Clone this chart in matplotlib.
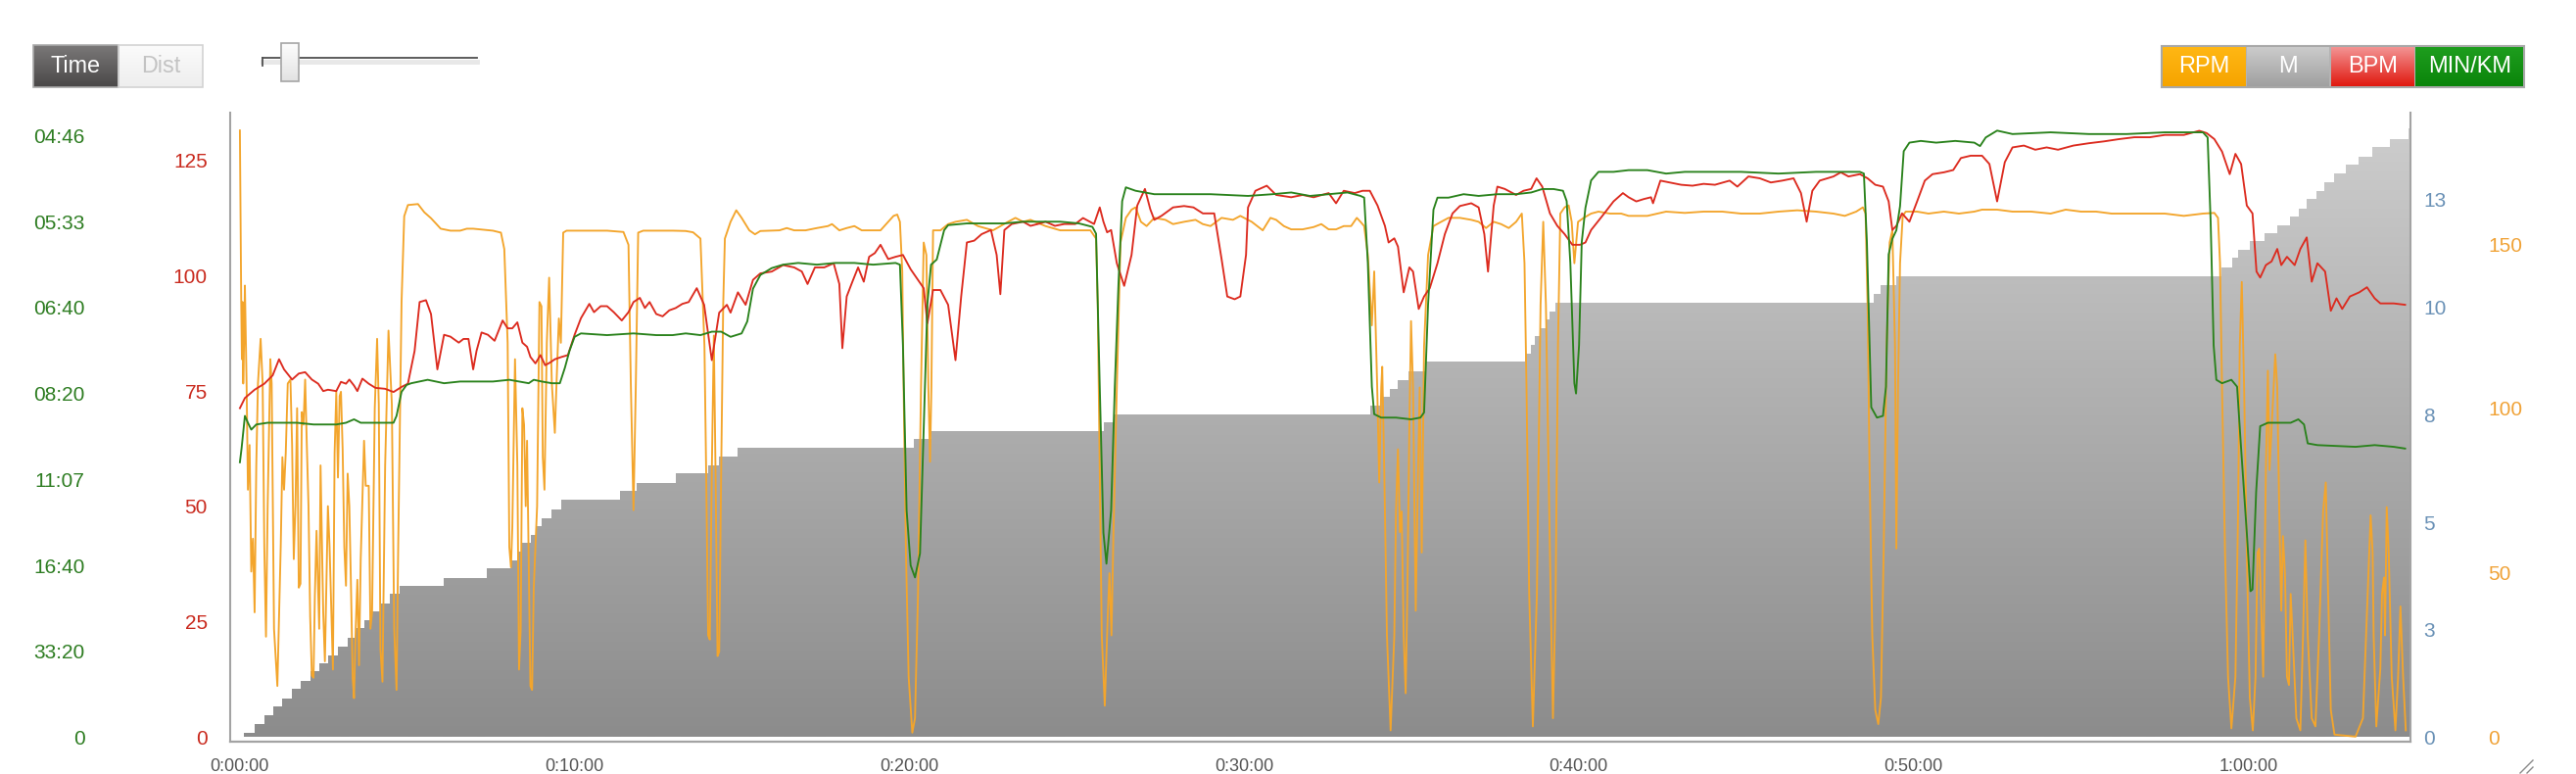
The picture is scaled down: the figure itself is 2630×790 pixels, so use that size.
import numpy as np
import matplotlib
matplotlib.use("Agg")
import matplotlib.pyplot as plt
from matplotlib.ticker import FixedLocator, FuncFormatter
from matplotlib.patches import PathPatch, Rectangle
from matplotlib.lines import Line2D
from matplotlib.colors import to_rgb, LinearSegmentedColormap

plt.rcParams['font.family'] = ['Liberation Sans', 'DejaVu Sans']

# ---------------- data (time in minutes) ----------------
time_ticks_min = [0, 10, 20, 30, 40, 50, 60]
bpm_ticks = [0, 25, 50, 75, 100, 125]
speed_ticks = [0, 0.5, 1.0, 1.5, 2.0, 2.5, 3.0, 3.5]   # m/s, labelled as min/km pace
dist_ticks = [0, 2.5, 5, 7.5, 10, 12.5]               # km
rpm_ticks = [0, 50, 100, 150]
legend_labels = ["RPM", "M", "BPM", "MIN/KM"]
mode_labels = ["Time", "Dist"]

# distance (km), step series: (time, value from that time on)
dist_pts = [
    (0.0, 0.0), (0.13, 0.10), (0.44, 0.31), (0.73, 0.51), (1.00, 0.72), (1.27, 0.91),
    (1.56, 1.12), (1.82, 1.31), (2.10, 1.53), (2.37, 1.72), (2.63, 1.91), (2.93, 2.10),
    (3.22, 2.32), (3.46, 2.53), (3.71, 2.72), (3.90, 2.92), (4.19, 3.12), (4.49, 3.33),
    (4.78, 3.52), (6.10, 3.71), (7.37, 3.92), (8.10, 4.12), (8.27, 4.32), (8.44, 4.52),
    (8.68, 4.71), (8.88, 4.90), (9.02, 5.09), (9.32, 5.30), (9.61, 5.52), (11.36, 5.73),
    (11.86, 5.92), (13.03, 6.14), (13.99, 6.33), (14.32, 6.52), (14.88, 6.73), (20.15, 6.94),
    (20.65, 7.13), (25.80, 7.32), (26.14, 7.51), (33.76, 7.71), (34.10, 7.91), (34.35, 8.11),
    (34.60, 8.31), (34.90, 8.52), (35.44, 8.74), (38.41, 8.93), (38.56, 9.13), (38.70, 9.33),
    (38.85, 9.52), (39.00, 9.72), (39.14, 9.91), (39.29, 10.11), (48.80, 10.32), (49.03, 10.52),
    (49.49, 10.72), (59.21, 10.92), (59.51, 11.15), (59.70, 11.34), (60.04, 11.53), (60.48, 11.72),
    (60.87, 11.91), (61.26, 12.10), (61.51, 12.29), (61.75, 12.52), (62.04, 12.71), (62.28, 12.90),
    (62.58, 13.11), (62.92, 13.32), (63.31, 13.50), (63.70, 13.72), (64.24, 13.92), (64.80, 14.15),
]

# heart rate (BPM)
bpm_pts = [
    (0.0, 71.3), (0.15, 73.5), (0.44, 75.3), (0.73, 76.6), (0.98, 78.4), (1.17, 81.9), (1.32, 79.7),
    (1.56, 77.5), (1.76, 78.8), (1.95, 79.1), (2.15, 77.5), (2.34, 76.6), (2.49, 75.0), (2.63, 75.3),
    (2.88, 75.0), (3.02, 77.0), (3.17, 76.6), (3.27, 77.5), (3.41, 76.2), (3.51, 75.0), (3.66, 77.7),
    (3.85, 76.6), (4.05, 75.7), (4.34, 75.5), (4.59, 74.8), (4.83, 75.9), (5.02, 76.6), (5.22, 83.7),
    (5.37, 94.3), (5.56, 94.7), (5.71, 91.7), (5.90, 79.7), (6.10, 87.2), (6.29, 86.8), (6.54, 85.5),
    (6.68, 86.3), (6.83, 86.3), (6.97, 79.7), (7.07, 83.7), (7.22, 87.7), (7.41, 87.2), (7.61, 85.9),
    (7.85, 90.3), (8.00, 88.6), (8.14, 88.6), (8.29, 89.9), (8.44, 85.5), (8.58, 84.6), (8.68, 82.4),
    (8.83, 81.0), (8.98, 82.8), (9.12, 80.6), (9.27, 81.2), (9.41, 81.9), (9.61, 82.4), (9.80, 82.8),
    (10.00, 87.2), (10.19, 90.8), (10.44, 93.9), (10.58, 92.1), (10.78, 93.4), (10.97, 93.4),
    (11.17, 92.1), (11.41, 90.3), (11.61, 92.1), (11.76, 94.3), (11.95, 95.2), (12.10, 93.0),
    (12.24, 94.3), (12.44, 91.7), (12.63, 91.2), (12.83, 92.5), (13.02, 93.0), (13.22, 93.9),
    (13.41, 94.3), (13.65, 97.3), (13.87, 93.7), (14.10, 81.7), (14.32, 92.0), (14.55, 93.7),
    (14.66, 92.0), (14.88, 96.4), (15.11, 93.7), (15.33, 99.1), (15.55, 100.5), (15.89, 100.9),
    (16.23, 102.3), (16.56, 101.8), (16.79, 100.9), (16.96, 98.2), (17.18, 101.8), (17.46, 101.8),
    (17.74, 102.7), (17.91, 98.2), (18.00, 84.3), (18.13, 95.5), (18.30, 98.7), (18.47, 101.8),
    (18.64, 98.7), (18.80, 104.1), (18.97, 104.9), (19.14, 106.7), (19.37, 103.6), (19.59, 104.1),
    (19.81, 104.5), (20.04, 101.4), (20.26, 99.1), (20.43, 97.3), (20.54, 89.7), (20.71, 96.9),
    (20.93, 96.9), (21.16, 93.7), (21.38, 81.7), (21.55, 95.5), (21.72, 107.2), (21.94, 107.6),
    (22.16, 109.0), (22.44, 109.9), (22.61, 104.5), (22.72, 96.0), (22.84, 109.9), (23.06, 111.2),
    (23.40, 111.7), (23.62, 110.8), (23.84, 111.2), (24.07, 111.7), (24.35, 110.8), (24.63, 111.2),
    (24.96, 111.2), (25.19, 112.5), (25.52, 111.2), (25.69, 114.8), (25.80, 111.7), (25.91, 109.4),
    (26.03, 109.9), (26.20, 102.7), (26.42, 97.8), (26.64, 104.5), (26.81, 115.2), (27.04, 118.8),
    (27.20, 114.4), (27.32, 112.1), (27.54, 113.0), (27.88, 114.8), (28.21, 115.1), (28.49, 114.8),
    (28.77, 113.5), (29.11, 113.5), (29.33, 103.6), (29.50, 95.5), (29.72, 94.9), (29.89, 95.5),
    (30.06, 104.5), (30.12, 114.8), (30.34, 118.4), (30.68, 119.5), (30.96, 117.5), (31.41, 117.0),
    (31.75, 117.5), (32.08, 117.0), (32.53, 117.9), (32.75, 115.7), (32.98, 118.4), (33.31, 117.9),
    (33.54, 118.4), (33.76, 118.4), (33.99, 115.2), (34.21, 110.8), (34.32, 107.2), (34.49, 108.1),
    (34.60, 106.3), (34.77, 96.4), (34.94, 101.8), (35.05, 100.9), (35.22, 92.8), (35.38, 95.5),
    (35.55, 97.3), (35.78, 102.7), (36.00, 109.0), (36.23, 113.5), (36.45, 115.1), (36.79, 115.7),
    (37.01, 114.8), (37.18, 109.0), (37.29, 100.9), (37.46, 115.2), (37.57, 119.3), (37.79, 118.8),
    (38.13, 117.5), (38.35, 118.4), (38.58, 118.8), (38.74, 121.1), (38.91, 119.3), (39.14, 113.5),
    (39.36, 110.8), (39.58, 109.0), (39.81, 106.7), (40.04, 106.7), (40.20, 107.2), (40.37, 109.9),
    (40.71, 113.0), (41.04, 116.1), (41.32, 117.9), (41.49, 117.0), (41.72, 116.1), (41.94, 116.6),
    (42.16, 117.0), (42.22, 115.7), (42.44, 120.6), (42.72, 120.2), (43.06, 119.7), (43.40, 119.5),
    (43.73, 119.9), (44.07, 119.7), (44.51, 120.6), (44.74, 119.3), (45.07, 121.5), (45.41, 121.1),
    (45.74, 120.2), (46.08, 120.6), (46.42, 121.1), (46.64, 117.9), (46.81, 111.7), (46.98, 118.4),
    (47.20, 120.6), (47.61, 121.5), (47.83, 122.4), (48.06, 121.5), (48.40, 122.0), (48.63, 121.1),
    (48.86, 119.7), (49.09, 119.3), (49.26, 116.1), (49.37, 109.9), (49.49, 110.8), (49.66, 113.5),
    (49.88, 111.7), (50.11, 116.1), (50.34, 120.6), (50.57, 122.0), (50.91, 122.4), (51.19, 122.9),
    (51.42, 125.5), (51.71, 126.0), (52.05, 126.0), (52.27, 124.2), (52.50, 116.1), (52.73, 124.6),
    (52.96, 127.8), (53.30, 128.2), (53.64, 127.3), (53.98, 127.8), (54.32, 127.3), (54.78, 128.2),
    (55.24, 128.7), (55.69, 129.1), (56.15, 129.6), (56.60, 130.0), (57.06, 130.0), (57.51, 130.5),
    (58.08, 130.5), (58.54, 131.4), (58.76, 130.9), (58.99, 129.6), (59.22, 126.9), (59.45, 122.0),
    (59.62, 126.4), (59.79, 124.2), (59.96, 115.2), (60.13, 113.5), (60.25, 100.9), (60.36, 99.6),
    (60.53, 102.3), (60.70, 103.1), (60.87, 105.8), (60.99, 102.3), (61.16, 104.1), (61.39, 102.3),
    (61.56, 105.8), (61.75, 108.3), (61.90, 98.7), (62.07, 102.7), (62.30, 100.9), (62.47, 92.4),
    (62.64, 95.1), (62.81, 92.8), (63.04, 95.5), (63.32, 96.4), (63.55, 97.5), (63.78, 95.1),
    (63.95, 94.0), (64.35, 94.0), (64.69, 93.7),
]

# speed (m/s) -> shown on the MIN/KM axis
speed_pts = [
    (0.0, 1.60), (0.05, 1.68), (0.15, 1.87), (0.24, 1.83), (0.34, 1.79), (0.49, 1.82), (0.83, 1.83),
    (1.22, 1.83), (1.71, 1.83), (2.20, 1.82), (2.58, 1.82), (2.88, 1.82), (3.17, 1.83), (3.41, 1.85),
    (3.61, 1.83), (3.95, 1.83), (4.34, 1.83), (4.59, 1.83), (4.68, 1.87), (4.83, 2.01), (4.98, 2.05),
    (5.12, 2.06), (5.61, 2.08), (6.10, 2.06), (6.58, 2.07), (7.07, 2.07), (7.56, 2.07), (8.05, 2.08),
    (8.34, 2.07), (8.63, 2.06), (8.78, 2.08), (9.02, 2.07), (9.32, 2.06), (9.56, 2.06), (9.71, 2.15),
    (9.85, 2.25), (10.00, 2.33), (10.19, 2.35), (10.97, 2.34), (11.76, 2.35), (12.44, 2.34),
    (12.93, 2.34), (13.32, 2.35), (13.76, 2.34), (14.10, 2.36), (14.38, 2.36), (14.66, 2.33),
    (14.99, 2.35), (15.16, 2.42), (15.33, 2.61), (15.55, 2.69), (15.89, 2.73), (16.23, 2.75),
    (16.68, 2.76), (17.24, 2.75), (17.80, 2.76), (18.36, 2.76), (18.92, 2.75), (19.59, 2.76),
    (19.72, 2.75), (19.81, 2.28), (19.92, 1.32), (20.04, 1.00), (20.17, 0.93), (20.32, 1.07),
    (20.43, 1.80), (20.54, 2.52), (20.65, 2.75), (20.82, 2.78), (21.04, 2.95), (21.16, 2.98),
    (21.72, 2.99), (22.28, 2.99), (22.84, 2.99), (23.40, 3.00), (23.96, 3.00), (24.51, 3.00),
    (25.07, 2.99), (25.47, 2.97), (25.58, 2.93), (25.69, 2.04), (25.80, 1.19), (25.89, 1.01),
    (26.03, 1.32), (26.14, 2.04), (26.25, 2.64), (26.36, 3.12), (26.47, 3.20), (26.76, 3.18),
    (27.32, 3.16), (27.88, 3.16), (29.00, 3.16), (30.12, 3.15), (30.85, 3.16), (31.41, 3.17),
    (31.97, 3.15), (32.53, 3.16), (33.09, 3.17), (33.48, 3.15), (33.59, 3.14), (33.70, 2.76),
    (33.82, 2.04), (33.89, 1.88), (34.10, 1.86), (34.54, 1.86), (34.99, 1.85), (35.27, 1.86),
    (35.38, 1.89), (35.50, 2.52), (35.66, 3.07), (35.78, 3.14), (36.11, 3.14), (36.56, 3.16),
    (37.01, 3.15), (37.57, 3.16), (38.13, 3.16), (38.58, 3.17), (38.91, 3.19), (39.25, 3.19),
    (39.53, 3.18), (39.64, 3.12), (39.75, 2.76), (39.87, 2.06), (39.92, 2.00), (40.01, 2.28),
    (40.09, 2.88), (40.20, 3.08), (40.37, 3.24), (40.59, 3.29), (41.04, 3.29), (41.49, 3.30),
    (42.05, 3.30), (42.61, 3.28), (43.17, 3.29), (43.73, 3.29), (44.85, 3.29), (45.97, 3.28),
    (47.09, 3.29), (47.83, 3.29), (48.40, 3.29), (48.52, 3.28), (48.61, 2.88), (48.69, 2.28),
    (48.74, 1.92), (48.91, 1.86), (49.09, 1.87), (49.18, 2.04), (49.26, 2.81), (49.37, 2.90),
    (49.49, 2.95), (49.60, 3.09), (49.71, 3.41), (49.88, 3.46), (50.22, 3.47), (50.68, 3.46),
    (51.25, 3.47), (51.82, 3.46), (51.99, 3.44), (52.16, 3.49), (52.50, 3.53), (52.96, 3.51),
    (54.10, 3.52), (55.24, 3.51), (56.37, 3.51), (57.51, 3.52), (58.65, 3.52), (58.79, 3.49),
    (58.88, 3.00), (58.97, 2.28), (59.05, 2.08), (59.22, 2.06), (59.50, 2.08), (59.67, 2.04),
    (59.79, 1.68), (59.96, 1.19), (60.07, 0.85), (60.13, 0.86), (60.24, 1.43), (60.36, 1.81),
    (60.59, 1.83), (60.93, 1.83), (61.27, 1.83), (61.50, 1.85), (61.67, 1.82), (61.78, 1.71),
    (62.07, 1.70), (63.21, 1.69), (63.78, 1.70), (64.35, 1.69), (64.69, 1.68),
]

# cadence (RPM)
rpm_pts = [
    (0.0, 184.6), (0.04, 132.4), (0.06, 115.0), (0.08, 132.4), (0.10, 107.6), (0.13, 122.5),
    (0.15, 137.4), (0.20, 107.6), (0.24, 75.3), (0.29, 88.9), (0.34, 50.4), (0.39, 60.4),
    (0.44, 38.0), (0.49, 82.7), (0.54, 107.6), (0.62, 121.2), (0.68, 107.6), (0.73, 57.9),
    (0.78, 30.6), (0.83, 70.3), (0.91, 115.0), (0.95, 107.6), (1.02, 33.0), (1.12, 15.6),
    (1.22, 57.9), (1.27, 85.2), (1.32, 75.3), (1.37, 86.4), (1.43, 107.6), (1.51, 108.8),
    (1.56, 88.9), (1.61, 54.2), (1.66, 70.3), (1.71, 100.1), (1.76, 45.5), (1.81, 46.7),
    (1.85, 98.9), (1.90, 95.1), (1.95, 108.8), (2.00, 88.9), (2.05, 70.3), (2.10, 36.8),
    (2.15, 18.8), (2.20, 18.1), (2.24, 43.0), (2.29, 62.8), (2.37, 33.0), (2.41, 82.7),
    (2.49, 38.0), (2.54, 23.1), (2.63, 70.3), (2.68, 57.9), (2.78, 20.6), (2.83, 86.4),
    (2.88, 105.1), (2.93, 79.0), (2.98, 103.8), (3.02, 105.1), (3.07, 87.7), (3.12, 57.9),
    (3.17, 46.1), (3.22, 80.2), (3.27, 70.3), (3.32, 45.5), (3.37, 18.1), (3.41, 11.9),
    (3.46, 33.0), (3.51, 47.9), (3.56, 21.9), (3.61, 54.2), (3.71, 90.2), (3.76, 76.5),
    (3.85, 76.5), (3.90, 33.0), (3.95, 38.0), (4.03, 100.1), (4.10, 121.2), (4.15, 101.3),
    (4.20, 26.8), (4.26, 16.9), (4.34, 82.7), (4.44, 123.7), (4.54, 101.3), (4.61, 33.0),
    (4.68, 14.4), (4.73, 57.9), (4.83, 132.4), (4.91, 158.5), (5.02, 161.9), (5.32, 162.2),
    (5.51, 159.7), (5.71, 157.9), (6.00, 154.7), (6.29, 154.1), (6.58, 154.1), (6.78, 154.7),
    (6.97, 154.7), (7.27, 154.4), (7.56, 154.1), (7.80, 153.5), (7.90, 148.5), (8.00, 120.0),
    (8.05, 57.9), (8.10, 51.7), (8.14, 64.1), (8.22, 115.0), (8.29, 82.7), (8.34, 20.6),
    (8.39, 33.0), (8.44, 100.1), (8.49, 95.1), (8.54, 70.3), (8.58, 90.2), (8.68, 15.6),
    (8.73, 14.4), (8.78, 45.5), (8.88, 70.3), (8.95, 132.4), (9.01, 131.1), (9.05, 85.2),
    (9.10, 75.3), (9.17, 120.0), (9.24, 139.8), (9.32, 107.6), (9.41, 92.6), (9.46, 107.6),
    (9.53, 127.4), (9.59, 120.0), (9.66, 153.5), (9.76, 154.1), (10.49, 154.1), (10.97, 154.1),
    (11.46, 153.7), (11.61, 149.8), (11.68, 107.6), (11.76, 69.1), (11.83, 107.6), (11.90, 153.5),
    (12.05, 154.1), (12.93, 154.1), (13.32, 154.0), (13.54, 153.6), (13.76, 151.7), (13.88, 119.0),
    (13.93, 81.3), (13.99, 31.0), (14.04, 29.7), (14.10, 81.3), (14.16, 122.2), (14.21, 81.3),
    (14.27, 24.7), (14.32, 26.0), (14.38, 81.3), (14.44, 131.6), (14.49, 151.7), (14.66, 156.8),
    (14.83, 160.3), (14.99, 158.0), (15.22, 154.2), (15.39, 153.0), (15.55, 154.0), (16.12, 154.2),
    (16.34, 154.9), (16.56, 154.2), (16.90, 154.2), (17.24, 154.9), (17.57, 155.5), (17.69, 156.1),
    (17.91, 154.2), (18.13, 154.9), (18.36, 155.5), (18.58, 154.2), (18.92, 154.2), (19.14, 154.2),
    (19.37, 156.8), (19.53, 158.6), (19.64, 159.0), (19.72, 156.8), (19.79, 141.7), (19.83, 106.4),
    (19.90, 56.2), (19.98, 18.4), (20.09, 1.4), (20.17, 5.8), (20.26, 43.6), (20.35, 106.4),
    (20.43, 150.5), (20.51, 146.7), (20.57, 106.4), (20.62, 83.8), (20.66, 106.4), (20.71, 154.2),
    (20.93, 154.2), (21.16, 156.1), (21.38, 156.8), (21.72, 157.4), (22.05, 155.5), (22.50, 154.2),
    (22.95, 156.8), (23.17, 158.0), (23.40, 156.8), (23.62, 157.4), (24.07, 155.5), (24.51, 154.2),
    (25.07, 154.2), (25.41, 154.2), (25.58, 151.7), (25.63, 131.6), (25.69, 81.3), (25.75, 31.0),
    (25.84, 9.6), (25.93, 37.3), (25.98, 49.9), (26.04, 31.0), (26.10, 62.4), (26.20, 106.4),
    (26.31, 150.5), (26.47, 158.0), (26.64, 160.5), (26.76, 161.2), (26.92, 156.8), (27.09, 155.5),
    (27.32, 158.0), (27.65, 157.4), (27.88, 156.1), (28.21, 156.8), (28.55, 157.4), (28.77, 156.1),
    (29.00, 155.5), (29.33, 158.0), (29.67, 157.4), (29.89, 158.6), (30.23, 156.8), (30.56, 154.2),
    (30.79, 158.0), (30.96, 157.4), (31.19, 155.5), (31.41, 154.5), (31.75, 154.5), (32.08, 155.2),
    (32.31, 156.1), (32.53, 154.5), (32.75, 154.5), (32.98, 155.5), (33.20, 155.5), (33.37, 158.0),
    (33.48, 156.8), (33.59, 155.5), (33.70, 146.7), (33.82, 125.3), (33.89, 141.7), (33.98, 106.4),
    (34.04, 77.5), (34.10, 106.4), (34.13, 112.7), (34.19, 81.3), (34.27, 31.0), (34.38, 2.1),
    (34.49, 31.0), (34.54, 68.7), (34.60, 87.6), (34.66, 62.4), (34.71, 68.7), (34.77, 31.0),
    (34.83, 13.4), (34.88, 43.6), (34.94, 93.9), (34.99, 126.6), (35.05, 106.4), (35.13, 38.5),
    (35.20, 81.3), (35.25, 106.4), (35.31, 56.2), (35.38, 119.0), (35.50, 146.7), (35.66, 155.5),
    (35.89, 156.8), (36.11, 158.0), (36.45, 158.0), (36.79, 157.4), (37.01, 156.8), (37.23, 154.9),
    (37.46, 156.8), (37.68, 156.1), (37.91, 154.9), (38.13, 156.8), (38.30, 159.3), (38.38, 144.2),
    (38.44, 106.4), (38.52, 43.6), (38.63, 3.3), (38.75, 43.6), (38.86, 131.6), (38.94, 156.8),
    (39.02, 131.6), (39.14, 56.2), (39.23, 5.8), (39.31, 43.6), (39.38, 119.0), (39.45, 159.3),
    (39.58, 161.2), (39.70, 161.8), (39.79, 156.8), (39.87, 144.2), (39.98, 156.8), (40.15, 158.0),
    (40.37, 159.3), (40.59, 159.9), (40.93, 159.3), (41.27, 159.3), (41.49, 158.6), (42.05, 158.6),
    (42.61, 159.9), (43.17, 159.5), (43.73, 159.9), (44.29, 159.9), (44.85, 159.3), (45.41, 159.3),
    (45.97, 159.9), (46.53, 160.3), (47.09, 159.9), (47.61, 159.3), (47.95, 158.6), (48.29, 159.9),
    (48.49, 161.2), (48.57, 159.3), (48.63, 131.6), (48.69, 81.3), (48.77, 31.0), (48.86, 8.3),
    (48.95, 4.0), (49.03, 12.1), (49.11, 56.2), (49.20, 119.0), (49.29, 150.5), (49.37, 154.2),
    (49.45, 119.0), (49.49, 57.4), (49.54, 106.4), (49.60, 144.2), (49.68, 158.6), (49.77, 159.9),
    (50.11, 159.9), (50.45, 159.3), (50.91, 159.9), (51.36, 159.3), (51.82, 159.9), (52.05, 160.5),
    (52.50, 160.5), (52.96, 159.9), (53.52, 159.9), (54.10, 159.3), (54.55, 160.5), (55.01, 159.9),
    (55.46, 159.9), (55.92, 159.3), (56.37, 159.3), (56.94, 159.3), (57.51, 159.3), (58.08, 158.6),
    (58.65, 159.3), (58.99, 159.5), (59.10, 158.0), (59.16, 144.2), (59.22, 106.4), (59.31, 56.2),
    (59.40, 18.4), (59.50, 2.7), (59.62, 18.4), (59.70, 68.7), (59.75, 119.0), (59.81, 138.5),
    (59.88, 106.4), (59.96, 56.2), (60.05, 12.1), (60.14, 2.1), (60.22, 18.4), (60.28, 56.2),
    (60.33, 57.4), (60.38, 43.6), (60.45, 18.4), (60.53, 81.3), (60.59, 111.5), (60.64, 81.3),
    (60.70, 93.9), (60.76, 106.4), (60.81, 116.5), (60.87, 106.4), (60.93, 68.7), (60.99, 38.5),
    (61.04, 61.2), (61.10, 49.9), (61.16, 18.4), (61.22, 15.9), (61.27, 43.6), (61.33, 31.0),
    (61.44, 5.8), (61.56, 2.1), (61.64, 31.0), (61.71, 59.9), (61.78, 31.0), (61.90, 5.8),
    (62.01, 3.3), (62.12, 31.0), (62.24, 68.7), (62.32, 77.5), (62.39, 43.6), (62.47, 8.3),
    (62.58, 0.8), (63.21, 0.2), (63.43, 5.8), (63.57, 43.6), (63.66, 67.5), (63.72, 56.2),
    (63.75, 31.0), (63.83, 3.3), (63.95, 20.9), (64.00, 43.6), (64.06, 48.6), (64.09, 31.0),
    (64.14, 70.0), (64.20, 56.2), (64.29, 18.4), (64.40, 2.1), (64.48, 18.4), (64.55, 39.8),
    (64.63, 18.4), (64.71, 2.1),
]

dist_t, dist_km = [list(v) for v in zip(*dist_pts)]
bpm_t, bpm = [list(v) for v in zip(*bpm_pts)]
speed_t, speed = [list(v) for v in zip(*speed_pts)]
rpm_t, rpm = [list(v) for v in zip(*rpm_pts)]

# ---------------- layout / style ----------------
W_PX, H_PX, DPI = 2630, 790, 100
AX_L, AX_R, AX_T, AX_B = 235, 2461, 117, 752.5
XMIN, XMAX = -0.29, 64.85
BPM_MAX, SPEED_MAX, DIST_MAX, RPM_MAX = 134.9, 3.623, 14.48, 189.4

C_RPM, C_BPM, C_SPD = '#F3A52C', '#DC2B1F', '#2A821C'
L_GREEN, L_RED, L_BLUE, L_ORANGE = '#2E7D22', '#C92A1E', '#6A91B6', '#F0A236'
TICK_FS = 15
LW = 1.35

fig = plt.figure(figsize=(W_PX / DPI, H_PX / DPI), dpi=DPI)
fig.patch.set_facecolor('white')

def fxy(x, y):
    return x / W_PX, 1 - y / H_PX

x0f, y0f = fxy(AX_L, AX_B)
x1f, y1f = fxy(AX_R, AX_T)
ax = fig.add_axes([x0f, y0f, x1f - x0f, y1f - y0f])
ax_r = ax.twinx()
ax_b = ax.twinx()
ax_s = ax.twinx()

for a in (ax, ax_r, ax_b, ax_s):
    for s in a.spines.values():
        s.set_visible(False)
ax.patch.set_alpha(0)

# distance area with vertical gradient
d_t = dist_t + [XMAX]
d_v = dist_km + [dist_km[-1]]
poly = ax.fill_between(d_t, d_v, step='post', facecolor='none', edgecolor='none')
clip = PathPatch(poly.get_paths()[0], transform=ax.transData, facecolor='none', edgecolor='none')
ax.add_patch(clip)
cmap = LinearSegmentedColormap.from_list('gr', ['#8c8c8c', '#cecece'])
grad = np.linspace(0, 1, 256).reshape(-1, 1)
im = ax.imshow(grad, extent=[XMIN, XMAX, 0, DIST_MAX], origin='lower', aspect='auto',
               cmap=cmap, interpolation='bilinear', zorder=0)
im.set_clip_path(clip)
ax.set_xlim(XMIN, XMAX)
ax.set_ylim(0, DIST_MAX)

ax_r.plot(rpm_t, rpm, color=C_RPM, lw=LW, solid_joinstyle='round')
ax_r.set_ylim(0, RPM_MAX)
ax_b.plot(bpm_t, bpm, color=C_BPM, lw=LW, solid_joinstyle='round')
ax_b.set_ylim(0, BPM_MAX)
ax_s.plot(speed_t, speed, color=C_SPD, lw=LW, solid_joinstyle='round')
ax_s.set_ylim(0, SPEED_MAX)

# x axis (time)
def fmt_hms(v, pos=None):
    s = int(round(v * 60))
    return f"{s // 3600}:{(s % 3600) // 60:02d}:{s % 60:02d}"
ax.xaxis.set_major_locator(FixedLocator(time_ticks_min))
ax.xaxis.set_major_formatter(FuncFormatter(fmt_hms))
ax.tick_params(axis='x', length=0, pad=15.2, labelsize=13, labelcolor='#555555')

# distance axis (right, inner)
ax.yaxis.tick_right()
ax.yaxis.set_major_locator(FixedLocator(dist_ticks))
ax.yaxis.set_major_formatter(FuncFormatter(lambda v, p: str(int(np.floor(v + 0.5)))))
ax.tick_params(axis='y', length=0, pad=9.4, labelsize=TICK_FS, labelcolor=L_BLUE)

# rpm axis (right, outer)
ax_r.yaxis.set_major_locator(FixedLocator(rpm_ticks))
ax_r.yaxis.set_major_formatter(FuncFormatter(lambda v, p: f"{v:.0f}"))
ax_r.tick_params(axis='y', length=0, pad=57, labelsize=TICK_FS, labelcolor=L_ORANGE)

# bpm axis (left, inner)
ax_b.yaxis.tick_left()
ax_b.yaxis.set_major_locator(FixedLocator(bpm_ticks))
ax_b.yaxis.set_major_formatter(FuncFormatter(lambda v, p: f"{v:.0f}"))
ax_b.tick_params(axis='y', length=0, pad=16.6, labelsize=TICK_FS, labelcolor=L_RED)

# pace axis (left, outer) : speed in m/s shown as mm:ss per km
def fmt_pace(v, pos=None):
    if v <= 0:
        return "0"
    s = int(round(1000.0 / v))
    return f"{s // 60:02d}:{s % 60:02d}"
ax_s.yaxis.tick_left()
ax_s.yaxis.set_major_locator(FixedLocator(speed_ticks))
ax_s.yaxis.set_major_formatter(FuncFormatter(fmt_pace))
ax_s.tick_params(axis='y', length=0, pad=107, labelsize=TICK_FS, labelcolor=L_GREEN)

# ---------------- UI overlay (pixel coordinates) ----------------
ui = fig.add_axes([0, 0, 1, 1], zorder=10)
ui.axis('off')
ui.patch.set_alpha(0)

def grad_box(x0, y0, x1, y1, top, bot, edge=None, lw=1.0, z=2):
    c0 = np.array(to_rgb(top)); c1 = np.array(to_rgb(bot))
    f = np.linspace(0, 1, 64)[:, None]
    img = (c0[None, :] * (1 - f) + c1[None, :] * f)[:, None, :]
    ui.imshow(img, extent=[x0, x1, y1, y0], aspect='auto', interpolation='bilinear', zorder=z)
    if edge:
        ui.add_patch(Rectangle((x0, y0), x1 - x0, y1 - y0, fill=False, edgecolor=edge, lw=lw, zorder=z + 0.1))

# chart frame
frame_c = '#a3a3a3'
ui.add_line(Line2D([AX_L, AX_L], [AX_T - 2, 757], color=frame_c, lw=1.5))
ui.add_line(Line2D([AX_R, AX_R], [AX_T - 2, 757], color=frame_c, lw=1.5))
ui.add_line(Line2D([AX_L, AX_R], [756.5, 756.5], color=frame_c, lw=1.6))

# Time / Dist toggle
grad_box(34, 46, 121, 89, '#7a7878', '#4a4848', edge='#a9a9a9', lw=1.2)
grad_box(121, 46, 207, 89, '#fbfbfb', '#eeeeee', edge='#d3d3d3', lw=1.2)
ui.text(77.5, 68, mode_labels[0], color='white', fontsize=16.8, ha='center', va='center', zorder=5)
ui.text(164, 68, mode_labels[1], color='#c3c3c3', fontsize=16.8, ha='center', va='center', zorder=5)

# slider
ui.add_line(Line2D([268, 487], [62.5, 62.5], color='#e8e8e8', lw=3.5, zorder=2))
ui.add_line(Line2D([268, 487], [59, 59], color='#4f4f4f', lw=1.3, zorder=3))
ui.add_line(Line2D([268.5, 268.5], [58.5, 67], color='#4f4f4f', lw=1.3, zorder=3))
grad_box(287, 44, 305, 83, '#fdfdfd', '#e2e2e2', edge='#a5a5a5', lw=1.2, z=4)

# legend buttons
ui.add_patch(Rectangle((2207, 47), 370, 42, facecolor='#b3b3b3', edgecolor='#a8a8a8', lw=1.5, zorder=1.5))
btns = [(2208.5, 2293, '#ffb714', '#f6a400'),
        (2294.5, 2378.5, '#cbcbcb', '#a0a0a0'),
        (2380, 2465, '#f39393', '#e0190f'),
        (2466.5, 2576, '#1e9d1e', '#0b850b')]
for (bx0, bx1, ct, cb), lab in zip(btns, legend_labels):
    grad_box(bx0, 48.5, bx1, 87.8, ct, cb)
    ui.text((bx0 + bx1) / 2, 68, lab, color='white', fontsize=17, ha='center', va='center', zorder=5)

# resize grip
ui.add_line(Line2D([2573, 2586], [789, 776], color='#8a8a8a', lw=1.0))
ui.add_line(Line2D([2580, 2586], [789, 783], color='#8a8a8a', lw=1.0))

ui.set_xlim(0, W_PX)
ui.set_ylim(H_PX, 0)

fig.savefig('out.png', dpi=DPI, facecolor='white')
